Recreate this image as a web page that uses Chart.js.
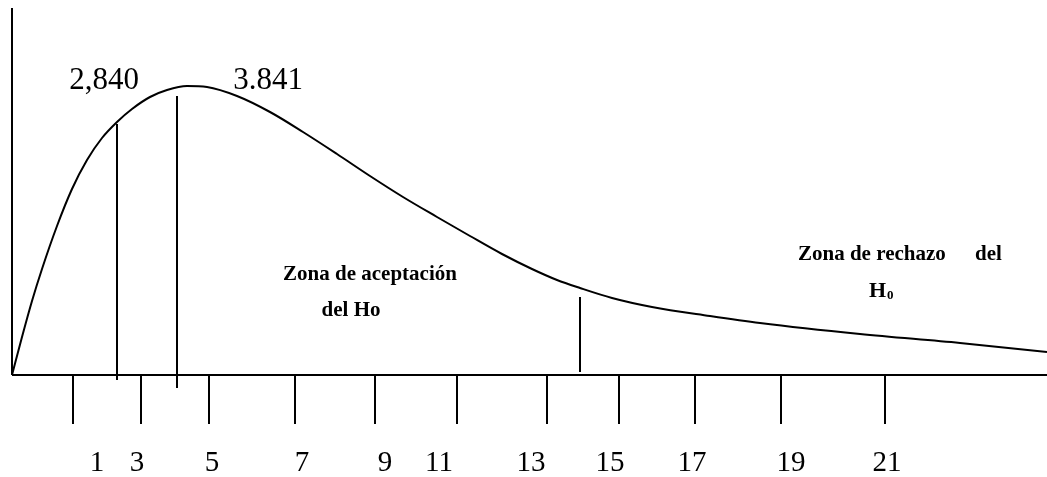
<!DOCTYPE html>
<html><head><meta charset="utf-8">
<script src="https://cdn.jsdelivr.net/npm/chart.js@4"></script>
<style>html,body{margin:0;padding:0;background:#fff}#wrap{width:1047px;height:477px;position:relative}</style>
</head><body><div id="wrap"><canvas id="c"></canvas></div>
<script>
// Curve of the chi-square like density (diagram units: x across, y height above axis)
const curveX = [0, 10, 20, 30, 45, 60, 75, 90, 105, 120, 138, 155, 175, 195, 225, 258, 291, 325, 358, 391, 425, 458, 490, 520, 545, 568, 600, 640, 698, 748, 848, 948, 1035];
const curveY = [0, 38, 74, 106, 149, 186, 215, 237, 253, 266, 278, 285, 289, 288, 279, 263, 243, 221, 199, 178, 158, 139, 121, 106, 95, 87, 77, 68, 59, 52, 41, 32, 23];
// Tick marks below the axis and their labels
const tickX = [61, 129, 197, 283, 363, 445, 535, 607, 683, 769, 873];
const tickLabels = ['1', '3', '5', '7', '9', '11', '13', '15', '17', '19', '21'];
const tickLabelX = [85, 125, 200, 290, 373, 427, 519, 598, 680, 779, 875];
// Critical value markers
const markerX = [105, 165, 568];
const markerTop = [251, 279, 78];
const markerBottom = [-5, -13, 3];
const markerLabels = ['2,840', '3.841'];
const markerLabelX = [92, 256];

const black = '#000';
const line = (pts, w) => ({type: 'scatter', showLine: true, data: pts, borderColor: black, borderWidth: w || 2, pointRadius: 0, tension: 0, fill: false});

const datasets = [];
const curve = line(curveX.map((x, i) => ({x, y: curveY[i]})), 2);
curve.cubicInterpolationMode = 'monotone';
datasets.push(curve);
datasets.push(line([{x: 0, y: 0}, {x: 0, y: 367}], 2));
datasets.push(line([{x: 0, y: 0}, {x: 1035, y: 0}], 2));
markerX.forEach((x, i) => datasets.push(line([{x, y: markerBottom[i]}, {x, y: markerTop[i]}], 2)));
tickX.forEach(x => datasets.push(line([{x, y: 0}, {x, y: -49}], 2)));

const textPlugin = {
  id: 'texts',
  afterDatasetsDraw(chart) {
    const {ctx, scales: {x: sx, y: sy}} = chart;
    ctx.save();
    ctx.fillStyle = black;
    ctx.textBaseline = 'alphabetic';
    ctx.textAlign = 'center';
    ctx.font = '29px "Liberation Serif", serif';
    tickLabels.forEach((t, i) => ctx.fillText(t, sx.getPixelForValue(tickLabelX[i]), sy.getPixelForValue(-96)));
    ctx.font = '31px "Liberation Serif", serif';
    markerLabels.forEach((t, i) => ctx.fillText(t, sx.getPixelForValue(markerLabelX[i]), sy.getPixelForValue(286)));
    ctx.font = 'bold 21px "Liberation Serif", serif';
    ctx.fillText('Zona de aceptación', sx.getPixelForValue(358), sy.getPixelForValue(95));
    ctx.fillText('del Ho', sx.getPixelForValue(339), sy.getPixelForValue(59));
    ctx.textAlign = 'left';
    ctx.fillText('Zona de rechazo', sx.getPixelForValue(786), sy.getPixelForValue(115));
    ctx.fillText('del', sx.getPixelForValue(963), sy.getPixelForValue(115));
    ctx.font = 'bold 22px "Liberation Serif", serif';
    ctx.fillText('H', sx.getPixelForValue(857), sy.getPixelForValue(78));
    ctx.font = 'bold 13px "Liberation Serif", serif';
    ctx.fillText('0', sx.getPixelForValue(875), sy.getPixelForValue(76));
    ctx.restore();
  }
};

new Chart(document.getElementById('c'), {
  type: 'scatter',
  data: {datasets},
  options: {
    responsive: true, maintainAspectRatio: false, animation: false,
    layout: {padding: 0},
    plugins: {legend: {display: false}, tooltip: {enabled: false}},
    scales: {
      x: {type: 'linear', display: false, min: -12, max: 1035},
      y: {type: 'linear', display: false, min: -102, max: 375}
    }
  },
  plugins: [textPlugin]
});
</script></body></html>
